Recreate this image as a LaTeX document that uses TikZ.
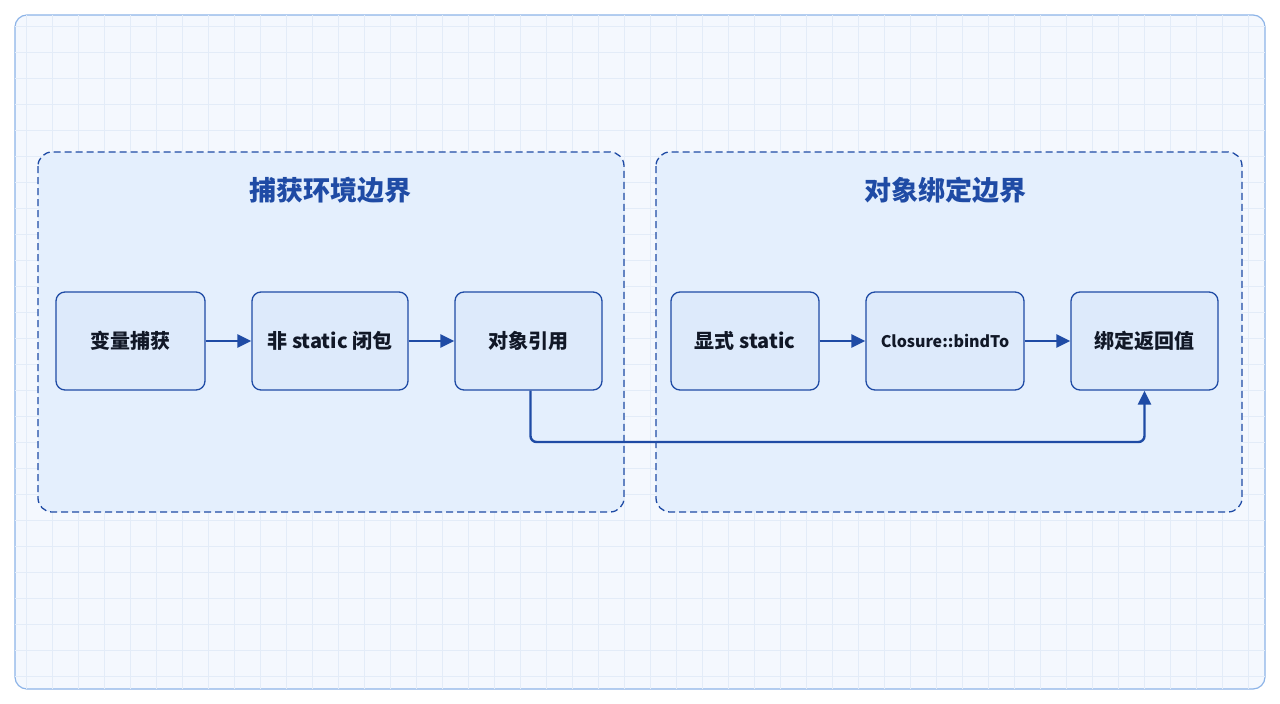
\documentclass[tikz,border=0pt]{standalone}
\usepackage{fontspec}
\setmainfont{Noto Sans CJK SC}
\usetikzlibrary{arrows.meta}
\definecolor{framecol}{HTML}{8DB4E8}
\definecolor{bgcol}{HTML}{F4F8FE}
\definecolor{gridcol}{HTML}{E3ECF8}
\definecolor{groupfill}{HTML}{E4EFFD}
\definecolor{boxfill}{HTML}{DDEAFB}
\definecolor{navyblue}{HTML}{1F4BA5}
\definecolor{darktext}{HTML}{111827}

\begin{document}
\begin{tikzpicture}[
            x=1pt, y=-1pt,
            group/.style={rectangle, draw=navyblue, fill=groupfill, line width=1.3pt,
                          dash pattern=on 7pt off 4pt, rounded corners=14pt},
            title/.style={font=\fontsize{27}{32}\selectfont\bfseries, text=navyblue},
            box/.style={rectangle, draw=navyblue, fill=boxfill, rounded corners=9pt,
                        minimum height=98pt, line width=1.3pt, text=darktext,
                        font=\fontsize{20}{24}\selectfont\bfseries},
            arrow/.style={-{Triangle[length=14pt,width=13pt]}, line width=2.4pt, color=navyblue}
        ]
            % Background
            \useasboundingbox (0,0) rectangle (1280,704);
            \fill[white] (0,0) rectangle (1280,704);
            \draw[framecol, fill=bgcol, line width=1.2pt, rounded corners=12pt] (15,15) rectangle (1265,689);
            \begin{scope}
                \clip[rounded corners=12pt] (15,15) rectangle (1265,689);
                \draw[gridcol, line width=0.6pt, step=26pt] (15,15) grid (1265,689);
            \end{scope}

            % Boundaries
            \draw[group] (38,152) rectangle (624,512);
            \draw[group] (656,152) rectangle (1242,512);
            \node[title] (capturetitle) at (330,190) {捕获环境边界};
            \node[title] (bindtitle) at (945,190) {对象绑定边界};

            \node[box, minimum width=149pt] (capture) at (130.5,341) {变量捕获};
            \node[box, minimum width=156pt] (closure) at (330,341) {非 static 闭包};
            \node[box, minimum width=147pt] (objref) at (528.5,341) {对象引用};
            \node[box, minimum width=148pt] (explicit) at (745,341) {显式 static};
            \node[box, minimum width=158pt, font=\fontsize{16}{20}\selectfont\bfseries] (bindto) at (945,341) {Closure::bindTo};
            \node[box, minimum width=147pt] (result) at (1144.5,341) {绑定返回值};

            \draw[arrow] (capture) -- (closure);
            \draw[arrow] (closure) -- (objref);
            \draw[arrow] (explicit) -- (bindto);
            \draw[arrow] (bindto) -- (result);

            % Object reference carried over
            \draw[arrow, rounded corners=6pt] (objref.south) ++(2,0) coordinate (refout)
                -- (refout |- 0,442) -- (result.south |- 0,442) -- (result.south);
        \end{tikzpicture}
\end{document}
